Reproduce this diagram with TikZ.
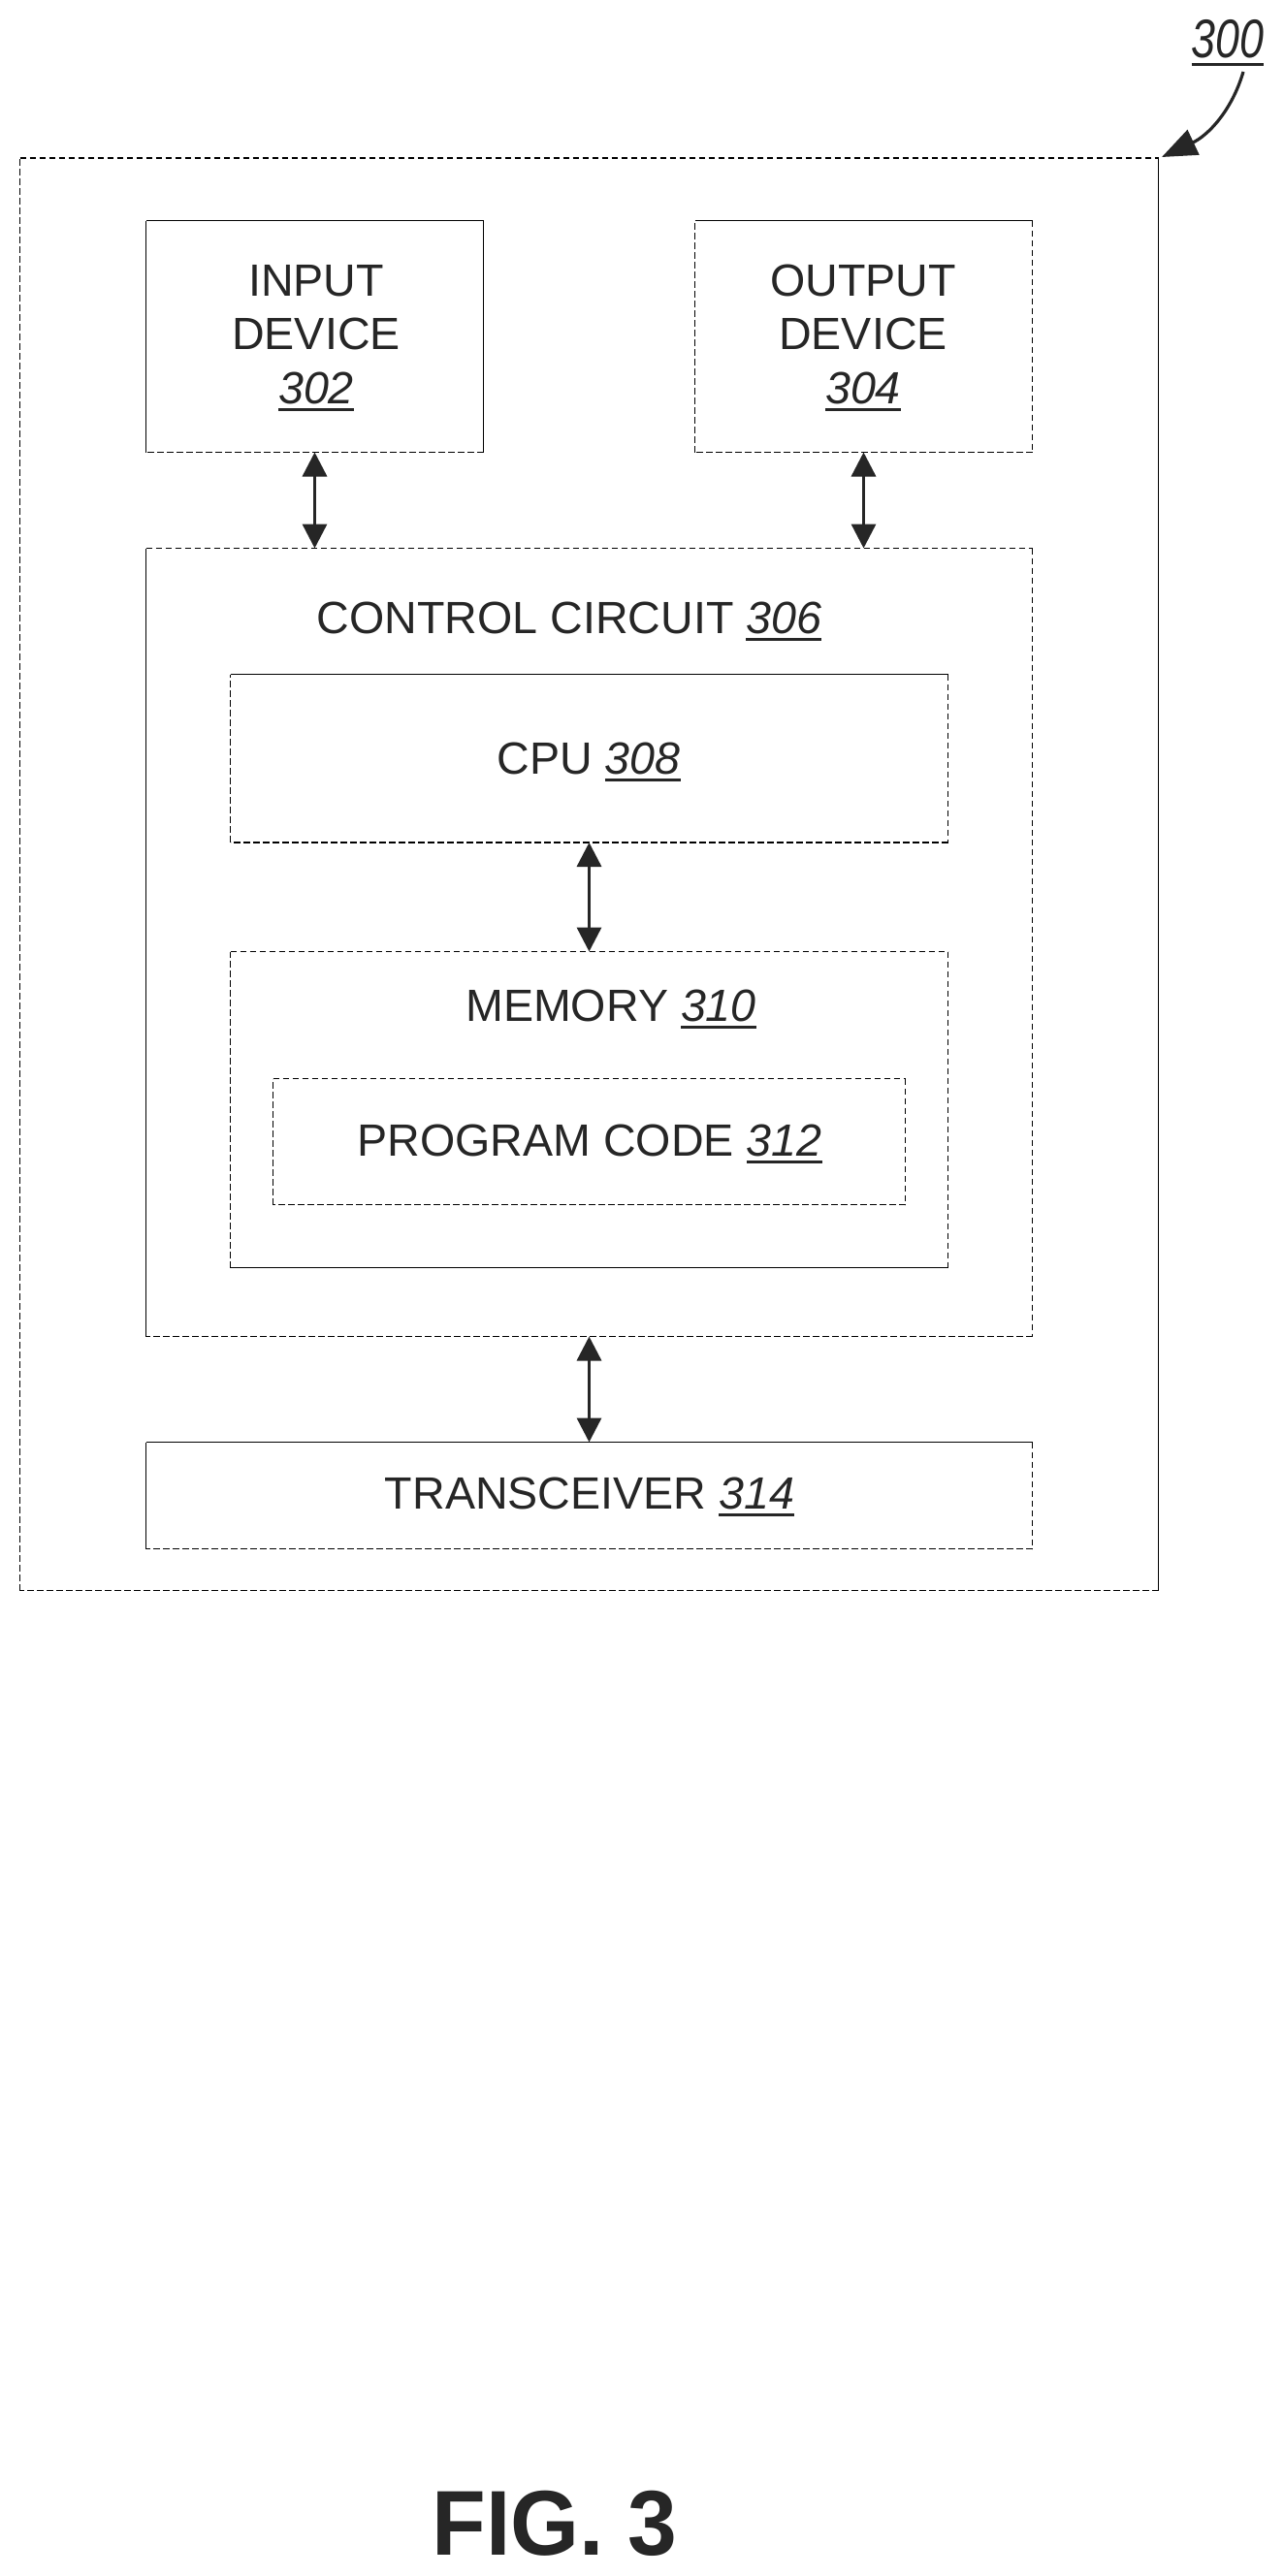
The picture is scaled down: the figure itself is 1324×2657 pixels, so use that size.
\documentclass[tikz,border=0pt]{standalone}
\usepackage{fontspec}
\setmainfont{Liberation Sans}
\usetikzlibrary{arrows.meta}
\definecolor{stip}{gray}{0.15}
\newcommand\refnum[1]{\setbox0=\hbox{\textit{#1}}\rlap{\copy0}{\color{stip}\rule[-8pt]{\wd0}{3pt}}}
\tikzset{
  x=1pt,y=-1pt,
  boxnode/.style={inner sep=0pt,outer sep=0pt},
  D/.style={black,line width=1.2pt,dash pattern=on 6.8pt off 3.2pt},
  S/.style={black,line width=1.4pt},
  link/.style={stip,line width=3.4pt,{Triangle[length=25pt,width=25pt]}-{Triangle[length=25pt,width=25pt]}},
  label/.style={inner sep=0pt,outer sep=0pt,anchor=base,text=stip,font=\fontsize{46.6}{55}\selectfont},
  tall/.style={inner sep=0pt,outer sep=0pt,anchor=base,text=stip,font=\fontsize{56}{60}\selectfont,transform shape,xscale=.8},
  figlabel/.style={inner sep=0pt,anchor=base,text=stip,font=\fontsize{95}{100}\selectfont\bfseries,transform shape,xscale=.96},
}
% named rectangle; last four arguments: line style of the top, right, bottom and left edges
\newcommand\dbox[9]{%
  \node[boxnode,minimum width=#4pt-#2pt,minimum height=#5pt-#3pt] (#1) at ({(#2+#4)/2},{(#3+#5)/2}) {};
  \draw[#6] (#1.north west) -- (#1.north east);
  \draw[#7] (#1.north east) -- (#1.south east);
  \draw[#8] (#1.south east) -- (#1.south west);
  \draw[#9] (#1.south west) -- (#1.north west);
}
\begin{document}
\begin{tikzpicture}
\useasboundingbox[fill=white] (0,0) rectangle (1324,2657);
\dbox{outer}{20.5}{163}{1194.5}{1640.5}{D}{S}{D}{D}
\dbox{inp}{150.5}{227.5}{498.5}{466.5}{S}{S}{D}{S}
\dbox{outp}{716.5}{227.5}{1064.5}{466.5}{S}{D}{D}{D}
\dbox{ctl}{150.5}{565.5}{1064.5}{1378.5}{D}{D}{D}{S}
\dbox{cpu}{237.5}{695.5}{977.5}{869}{S}{D}{D}{D}
\dbox{mem}{237.5}{981.5}{977.5}{1307.5}{D}{D}{S}{D}
\dbox{prog}{281.5}{1112.5}{933.5}{1242.5}{D}{D}{D}{D}
\dbox{trx}{150.5}{1487.5}{1064.5}{1597.5}{S}{D}{D}{S}

\node[label] (l1) at (326,305) {INPUT};
\node[label] (l2) at (326,360) {DEVICE};
\node[label] (l3) at (326,416) {\refnum{302}};
\node[label] (l4) at (890,305) {OUTPUT};
\node[label] (l5) at (890,360) {DEVICE};
\node[label] (l6) at (890,416) {\refnum{304}};
\node[label] (l7) at (587,653) {CONTROL CIRCUIT \refnum{306}};
\node[label] (l8) at (607,798) {CPU \refnum{308}};
\node[label] (l9) at (630,1053) {MEMORY \refnum{310}};
\node[label] (l10) at (608,1192) {PROGRAM CODE \refnum{312}};
\node[label] (l11) at (608,1556) {TRANSCEIVER \refnum{314}};
\node[figlabel] (fig) at (572,2635) {FIG. 3};
\node[tall] (n300) at (1266,60) {\refnum{300}};

\draw[link] (inp.south) -- (inp.south |- ctl.north);
\draw[link] (outp.south) -- (outp.south |- ctl.north);
\draw[link] (cpu.south) -- (mem.north);
\draw[link] (ctl.south) -- (trx.north);
\coordinate (start300) at (1282,74);
\coordinate (tip300) at (1198,162);
\draw[stip,line width=3.2pt,-{Triangle[length=36pt,width=28pt]}] (start300) .. controls (1270,115) and (1245,140) .. (tip300);
\end{tikzpicture}
\end{document}
